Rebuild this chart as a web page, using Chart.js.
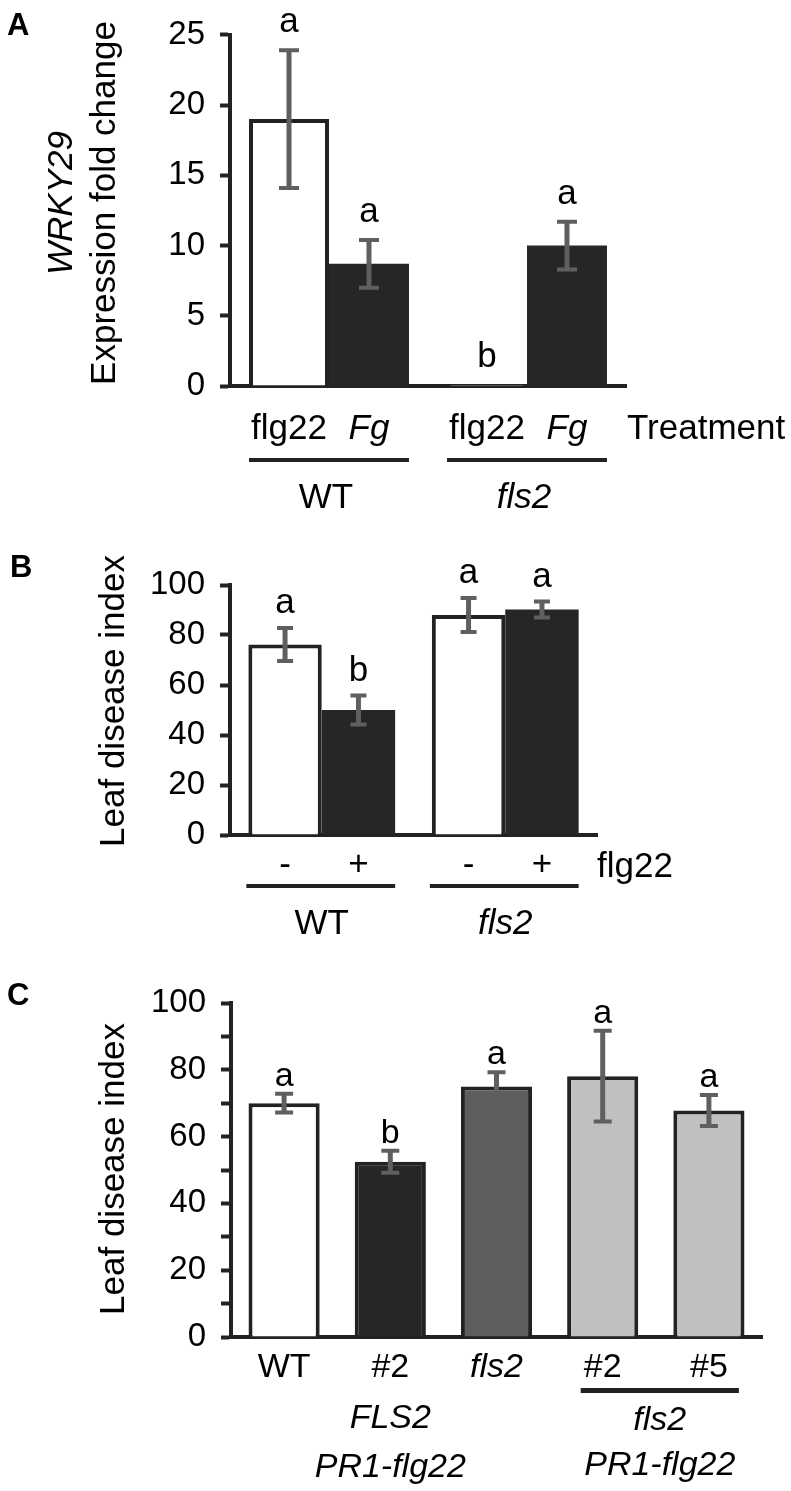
<!DOCTYPE html>
<html>
<head>
<meta charset="utf-8">
<script src="https://cdn.jsdelivr.net/npm/chart.js@4.4.1/dist/chart.umd.min.js"></script>
<style>
  body { margin: 0; background: #fff; }
  #wrap { position: relative; width: 791px; height: 1491px; }
  canvas { position: absolute; left: 0; }
</style>
</head>
<body>
<div id="wrap">
  <canvas id="chartA" width="791" height="530" style="top:0px"></canvas>
  <canvas id="chartB" width="791" height="415" style="top:530px"></canvas>
  <canvas id="chartC" width="791" height="546" style="top:945px"></canvas>
</div>
<script>
// Panel A - WRKY29 expression fold change
const aGenotypes = ["WT", "fls2"];
const aGenotypeItalic = [false, true];
const aTreatments = ["flg22", "Fg"];
const aTreatmentItalic = [false, true];
const aFlg22Mean = [19.0, 0.1];
const aFlg22Err = [4.9, 0];
const aFgMean = [8.7, 10.0];
const aFgErr = [1.7, 1.7];
const aFlg22Letters = ["a", "b"];
const aFgLetters = ["a", "a"];
const aYMax = 25;
const aYStep = 5;

// Panel B - leaf disease index, flg22 -/+
const bGenotypes = ["WT", "fls2"];
const bGenotypeItalic = [false, true];
const bTreatments = ["-", "+"];
const bMinusMean = [76.2, 88.0];
const bMinusErr = [6.6, 6.8];
const bPlusMean = [50.0, 90.2];
const bPlusErr = [5.8, 3.2];
const bMinusLetters = ["a", "a"];
const bPlusLetters = ["b", "a"];
const bYMax = 100;
const bYStep = 20;

// Panel C - leaf disease index per line
const cLines = ["WT", "#2", "fls2", "#2", "#5"];
const cLineItalic = [false, false, true, false, false];
const cMean = [70.0, 52.5, 75.0, 78.1, 67.8];
const cErr = [2.8, 3.3, 4.3, 13.6, 4.65];
const cLetters = ["a", "b", "a", "a", "a"];
const cColors = ["#ffffff", "#262626", "#5e5e5e", "#c0c0c0", "#c0c0c0"];
const cYMax = 100;
const cYStep = 10;
const cYLabelStep = 20;

const FONT = '"Liberation Sans", Arial, Helvetica, sans-serif';
const INK = "#222222";

function drawText(ctx, str, x, y, size, italic, align) {
  ctx.font = (italic ? "italic " : "") + size + "px " + FONT;
  ctx.textAlign = align || "center";
  ctx.textBaseline = "alphabetic";
  ctx.fillStyle = "#000";
  ctx.fillText(str, x, y);
}

function drawVText(ctx, str, x, y, size, italic) {
  ctx.save();
  ctx.translate(x, y);
  ctx.rotate(-Math.PI / 2);
  drawText(ctx, str, 0, 0, size, italic);
  ctx.restore();
}

// error bars + significance letters, read from the datasets
const errorBars = {
  id: "errorBars",
  afterDatasetsDraw(chart, args, opts) {
    const ctx = chart.ctx;
    const y = chart.scales.y;
    chart.data.datasets.forEach((ds, di) => {
      chart.getDatasetMeta(di).data.forEach((bar, i) => {
        const v = ds.data[i];
        const e = ds.errors[i];
        const top = y.getPixelForValue(v + e);
        if (e > 0) {
          const bot = y.getPixelForValue(v - e);
          ctx.save();
          ctx.strokeStyle = "#5f5f5f";
          ctx.lineWidth = 5;
          ctx.beginPath();
          ctx.moveTo(bar.x, top);
          ctx.lineTo(bar.x, bot);
          ctx.stroke();
          ctx.lineWidth = 4;
          ctx.beginPath();
          ctx.moveTo(bar.x - opts.cap, top);
          ctx.lineTo(bar.x + opts.cap, top);
          ctx.moveTo(bar.x - opts.cap, bot);
          ctx.lineTo(bar.x + opts.cap, bot);
          ctx.stroke();
          ctx.restore();
        }
        drawText(ctx, ds.letters[i], bar.x, top - opts.gap, opts.size, false);
      });
    });
  }
};

function makeOptions(pad, yWidth, yMax, yStep, tickCb, gap, cap, letterSize) {
  return {
    responsive: false,
    animation: false,
    devicePixelRatio: 1,
    layout: { padding: pad },
    plugins: {
      legend: { display: false },
      tooltip: { enabled: false },
      errorBars: { gap: gap, cap: cap, size: letterSize }
    },
    scales: {
      x: {
        type: "category",
        z: 1,
        grid: { display: false },
        ticks: { display: false },
        border: { display: true, color: INK, width: 4 },
        afterFit: (s) => { s.height = 0; }
      },
      y: {
        min: 0,
        max: yMax,
        z: 1,
        afterFit: (s) => { s.width = yWidth; },
        grid: { display: true, drawOnChartArea: false, drawTicks: true, tickLength: 10, tickWidth: 4, tickColor: INK },
        border: { display: true, color: INK, width: 4 },
        ticks: {
          stepSize: yStep,
          autoSkip: false,
          padding: 15,
          color: "#000",
          font: { family: FONT, size: 33 },
          callback: tickCb
        }
      }
    }
  };
}

// Panel A
new Chart(document.getElementById("chartA"), {
  type: "bar",
  data: {
    labels: aGenotypes,
    datasets: [
      { data: aFlg22Mean, errors: aFlg22Err, letters: aFlg22Letters, backgroundColor: "#ffffff",
        borderColor: INK, borderWidth: 4, categoryPercentage: 0.808, barPercentage: 1.0 },
      { data: aFgMean, errors: aFgErr, letters: aFgLetters, backgroundColor: "#262626",
        borderColor: "#262626", borderWidth: 0, categoryPercentage: 0.808, barPercentage: 1.0 }
    ]
  },
  options: makeOptions({ left: 0, top: 24, right: 165, bottom: 144 }, 230, aYMax, aYStep, (v) => v, 18, 10, 35),
  plugins: [errorBars, {
    id: "labelsA",
    afterDraw(chart) {
      const ctx = chart.ctx;
      const area = chart.chartArea;
      const m0 = chart.getDatasetMeta(0).data;
      const m1 = chart.getDatasetMeta(1).data;
      aGenotypes.forEach((g, i) => {
        drawText(ctx, aTreatments[0], m0[i].x, 439, 35, aTreatmentItalic[0]);
        drawText(ctx, aTreatments[1], m1[i].x, 439, 35, aTreatmentItalic[1]);
        const left = m0[i].x - m0[i].width / 2;
        const right = m1[i].x + m1[i].width / 2;
        ctx.fillStyle = INK;
        ctx.fillRect(left, 458, right - left, 4);
        drawText(ctx, g, (left + right) / 2 - 3, 508, 35, aGenotypeItalic[i]);
      });
      drawText(ctx, "Treatment", area.right + 1, 439, 35, false, "left");
      drawVText(ctx, "WRKY29", 72, 203, 35, true);
      drawVText(ctx, "Expression fold change", 115, 203, 35, false);
      ctx.font = "bold 31px " + FONT;
      ctx.textAlign = "left";
      ctx.fillText("A", 7, 35);
    }
  }]
});

// Panel B
new Chart(document.getElementById("chartB"), {
  type: "bar",
  data: {
    labels: bGenotypes,
    datasets: [
      { data: bMinusMean, errors: bMinusErr, letters: bMinusLetters, backgroundColor: "#ffffff",
        borderColor: INK, borderWidth: 4, categoryPercentage: 0.80, barPercentage: 1.0 },
      { data: bPlusMean, errors: bPlusErr, letters: bPlusLetters, backgroundColor: "#262626",
        borderColor: "#262626", borderWidth: 0, categoryPercentage: 0.80, barPercentage: 1.0 }
    ]
  },
  options: makeOptions({ left: 0, top: 55, right: 194, bottom: 110 }, 230, bYMax, bYStep, (v) => v, 15, 8, 35),
  plugins: [errorBars, {
    id: "labelsB",
    afterDraw(chart) {
      const ctx = chart.ctx;
      const area = chart.chartArea;
      const m0 = chart.getDatasetMeta(0).data;
      const m1 = chart.getDatasetMeta(1).data;
      bGenotypes.forEach((g, i) => {
        drawText(ctx, bTreatments[0], m0[i].x, 345, 35, false);
        drawText(ctx, bTreatments[1], m1[i].x, 345, 35, false);
        const left = m0[i].x - m0[i].width / 2;
        const right = m1[i].x + m1[i].width / 2;
        ctx.fillStyle = INK;
        ctx.fillRect(left - 2, 354, right - left + 2, 4);
        drawText(ctx, g, (left + right) / 2, 404, 35, bGenotypeItalic[i]);
      });
      drawText(ctx, "flg22", area.right, 347, 35, false, "left");
      drawVText(ctx, "Leaf disease index", 124, 171, 35, false);
      ctx.font = "bold 31px " + FONT;
      ctx.textAlign = "left";
      ctx.fillText("B", 10, 47);
    }
  }]
});

// Panel C
new Chart(document.getElementById("chartC"), {
  type: "bar",
  data: {
    labels: cLines,
    datasets: [
      { data: cMean, errors: cErr, letters: cLetters, backgroundColor: cColors,
        borderColor: INK, borderWidth: 4, categoryPercentage: 0.67, barPercentage: 1.0 }
    ]
  },
  options: makeOptions({ left: 0, top: 58, right: 29, bottom: 154 }, 231, cYMax, cYStep,
    (v) => (v % cYLabelStep === 0 ? v : ""), 8, 9, 34),
  plugins: [errorBars, {
    id: "labelsC",
    afterDraw(chart) {
      const ctx = chart.ctx;
      const m = chart.getDatasetMeta(0).data;
      cLines.forEach((name, i) => {
        drawText(ctx, name, m[i].x, 432, 34, cLineItalic[i]);
      });
      // FLS2 PR1-flg22 line under #2
      drawText(ctx, "FLS2", m[1].x, 483, 34, true);
      drawText(ctx, "PR1-flg22", m[1].x, 532, 34, true);
      // fls2 PR1-flg22 lines #2 and #5
      const left = m[3].x - 22;
      const right = m[4].x + 30;
      ctx.fillStyle = INK;
      ctx.fillRect(left, 443, right - left, 5);
      drawText(ctx, "fls2", (left + right) / 2, 485, 34, true);
      drawText(ctx, "PR1-flg22", (left + right) / 2, 530, 34, true);
      drawVText(ctx, "Leaf disease index", 124, 224, 35, false);
      ctx.font = "bold 31px " + FONT;
      ctx.textAlign = "left";
      ctx.fillStyle = "#000";
      ctx.fillText("C", 7, 60);
    }
  }]
});
</script>
</body>
</html>
